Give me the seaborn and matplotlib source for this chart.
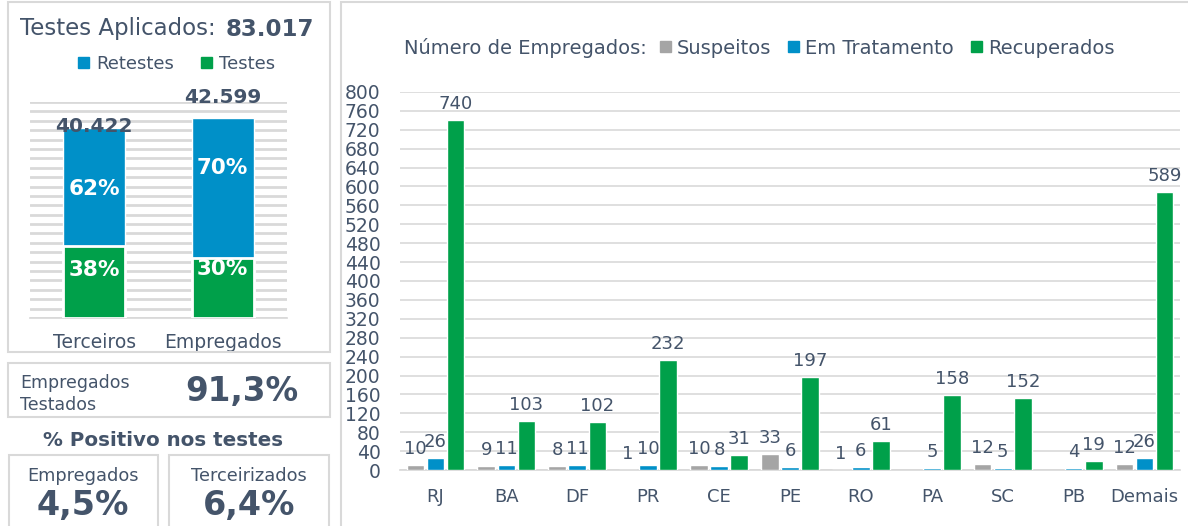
"""
Painel de testes e situação dos empregados por estado.
"""

import numpy as np
import pandas as pd
import matplotlib
matplotlib.use("Agg")
import matplotlib.pyplot as plt
from matplotlib.patches import Rectangle, Patch
import seaborn as sns

# Dados - painel esquerdo
grupos = ["Terceiros", "Empregados"]
totais = [40422, 42599]
pct_testes = [38, 30]
pct_retestes = [62, 70]
total_aplicado = "83.017"
empregados_testados = "91,3%"
positivo_empregados = "4,5%"
positivo_terceirizados = "6,4%"

# Dados - painel direito
estados = ["RJ", "BA", "DF", "PR", "CE", "PE", "RO", "PA", "SC", "PB", "Demais"]
suspeitos = [10, 9, 8, 1, 10, 33, 1, np.nan, 12, np.nan, 12]
em_tratamento = [26, 11, 11, 10, 8, 6, 6, 5, 5, 4, 26]
recuperados = [740, 103, 102, 232, 31, 197, 61, 158, 152, 19, 589]
series = ["Suspeitos", "Em Tratamento", "Recuperados"]

CINZA = "#A5A5A5"
AZUL = "#0090C8"
VERDE = "#00A04A"
TEXTO = "#44546A"
GRADE = "#D9D9D9"

sns.set_theme(style="white")
plt.rcParams['font.family'] = ['DejaVu Sans']
plt.rcParams['text.color'] = TEXTO

W, H = 1188, 526
fig = plt.figure(figsize=(W / 100, H / 100), dpi=100)


def fx(px):
    return px / W


def fy(py):
    return 1 - py / H


def caixa(x0, y0, x1, y1):
    fig.patches.append(Rectangle((fx(x0), fy(y1)), fx(x1 - x0), (y1 - y0) / H,
                                 transform=fig.transFigure, fill=False,
                                 edgecolor=GRADE, lw=1.5))


# caixas
caixa(8, 2, 330, 352)
caixa(8, 363, 330, 417)
caixa(9, 455, 158, 530)
caixa(169, 455, 329, 530)
caixa(341, 2, 1190, 530)

# ---- painel esquerdo: barras empilhadas ----
ax1 = fig.add_axes([fx(30), fy(318), fx(287 - 30), (318 - 102) / H])
testes = [t * p / 100 for t, p in zip(totais, pct_testes)]
df_left = pd.DataFrame({"grupo": grupos, "total": totais, "testes": testes})
sns.barplot(data=df_left, x="grupo", y="total", color=AZUL, saturation=1,
            width=0.48, ax=ax1, zorder=3)
sns.barplot(data=df_left, x="grupo", y="testes", color=VERDE, saturation=1,
            width=0.48, ax=ax1, zorder=4, edgecolor="white", linewidth=2)
ax1.set_ylim(0, 46000)
ax1.set_xlim(-0.5, 1.5)
ax1.set_yticks(np.arange(0, 46001, 2000))
ax1.yaxis.grid(True, color=GRADE, lw=2, zorder=0)
ax1.set_yticklabels([])
ax1.tick_params(axis="y", length=0)
ax1.set_xlabel("")
ax1.set_ylabel("")
for s in ["top", "left", "right"]:
    ax1.spines[s].set_visible(False)
ax1.spines["bottom"].set_color(GRADE)
ax1.set_xticks([0, 1])
ax1.set_xticklabels(grupos, fontsize=13.5, color=TEXTO)
ax1.tick_params(axis="x", length=0, pad=11)
ax1.set_xticks([-0.5, 0.5, 1.5], minor=True)
ax1.tick_params(axis="x", which="minor", length=5, color=GRADE, width=1.2)

# posição relativa dos rótulos dentro de cada segmento
pos_testes = [0.66, 0.82]
pos_retestes = [0.48, 0.64]
desloc_total = [400, 4300]
for i in range(len(grupos)):
    t = testes[i]
    r = totais[i] - t
    ax1.text(i, t * pos_testes[i], f"{pct_testes[i]}%", ha="center", va="center",
             color="white", fontsize=15.5, fontweight="bold", zorder=5)
    ax1.text(i, t + r * pos_retestes[i], f"{pct_retestes[i]}%", ha="center",
             va="center", color="white", fontsize=15.5, fontweight="bold", zorder=5)
    ax1.text(i, totais[i] + desloc_total[i], f"{totais[i]:,}".replace(",", "."),
             ha="center", va="center", color=TEXTO, fontsize=14.5,
             fontweight="bold", zorder=6, clip_on=False)

fig.text(fx(20), fy(29), "Testes Aplicados:", fontsize=16.5, va="center", ha="left")
fig.text(fx(226), fy(29), total_aplicado, fontsize=16.5, fontweight="bold",
         va="center", ha="left")
fig.legend(handles=[Patch(color=AZUL, label="Retestes"),
                    Patch(color=VERDE, label="Testes")],
           loc="center", bbox_to_anchor=(fx(177), fy(64)), ncol=2, frameon=False,
           fontsize=13, handlelength=0.6, handleheight=0.6, handletextpad=0.4,
           columnspacing=1.5, labelcolor=TEXTO)

fig.text(fx(20), fy(383), "Empregados", fontsize=12.5, va="center")
fig.text(fx(20), fy(405), "Testados", fontsize=12.5, va="center")
fig.text(fx(242), fy(392), empregados_testados, fontsize=23.5, fontweight="bold",
         ha="center", va="center")
fig.text(fx(163), fy(440), "% Positivo nos testes", fontsize=14.3,
         fontweight="bold", ha="center", va="center")
fig.text(fx(83), fy(476), "Empregados", fontsize=12.8, ha="center", va="center")
fig.text(fx(83), fy(505), positivo_empregados, fontsize=24, fontweight="bold",
         ha="center", va="center")
fig.text(fx(249), fy(476), "Terceirizados", fontsize=12.8, ha="center", va="center")
fig.text(fx(249), fy(505), positivo_terceirizados, fontsize=24, fontweight="bold",
         ha="center", va="center")

# ---- painel direito: barras agrupadas ----
df = pd.DataFrame({"Estado": estados, "Suspeitos": suspeitos,
                   "Em Tratamento": em_tratamento, "Recuperados": recuperados})
df_long = df.melt(id_vars="Estado", var_name="Status", value_name="Valor")

ax2 = fig.add_axes([fx(400), fy(470), fx(1180 - 400), (470 - 92) / H])
sns.barplot(data=df_long, x="Estado", y="Valor", hue="Status", hue_order=series,
            order=estados, palette=[CINZA, AZUL, VERDE], saturation=1,
            width=0.85, gap=0.12, errorbar=None, ax=ax2, legend=False, zorder=3)
ax2.set_ylim(0, 800)
ax2.set_yticks(np.arange(0, 801, 40))
ax2.yaxis.grid(True, color=GRADE, lw=1.2, zorder=0)
ax2.tick_params(axis="y", labelsize=13.5, labelcolor=TEXTO, length=0, pad=14)
ax2.tick_params(axis="x", labelsize=13, labelcolor=TEXTO, length=0, pad=13)
ax2.set_xlabel("")
ax2.set_ylabel("")
for s in ["top", "left", "right"]:
    ax2.spines[s].set_visible(False)
ax2.spines["bottom"].set_color(GRADE)
for c in ax2.containers:
    ax2.bar_label(c, fmt="{:.0f}", fontsize=13, color=TEXTO, padding=5)

fig.text(fx(404), fy(48), "Número de Empregados:", fontsize=14, va="center")
fig.legend(handles=[Patch(color=CINZA, label="Suspeitos"),
                    Patch(color=AZUL, label="Em Tratamento"),
                    Patch(color=VERDE, label="Recuperados")],
           loc="center left", bbox_to_anchor=(fx(660), fy(48)), ncol=3,
           frameon=False, fontsize=14, handlelength=0.55, handleheight=0.55,
           handletextpad=0.3, columnspacing=0.9, labelcolor=TEXTO,
           borderaxespad=0, borderpad=0)

fig.savefig("out.png", dpi=100)
